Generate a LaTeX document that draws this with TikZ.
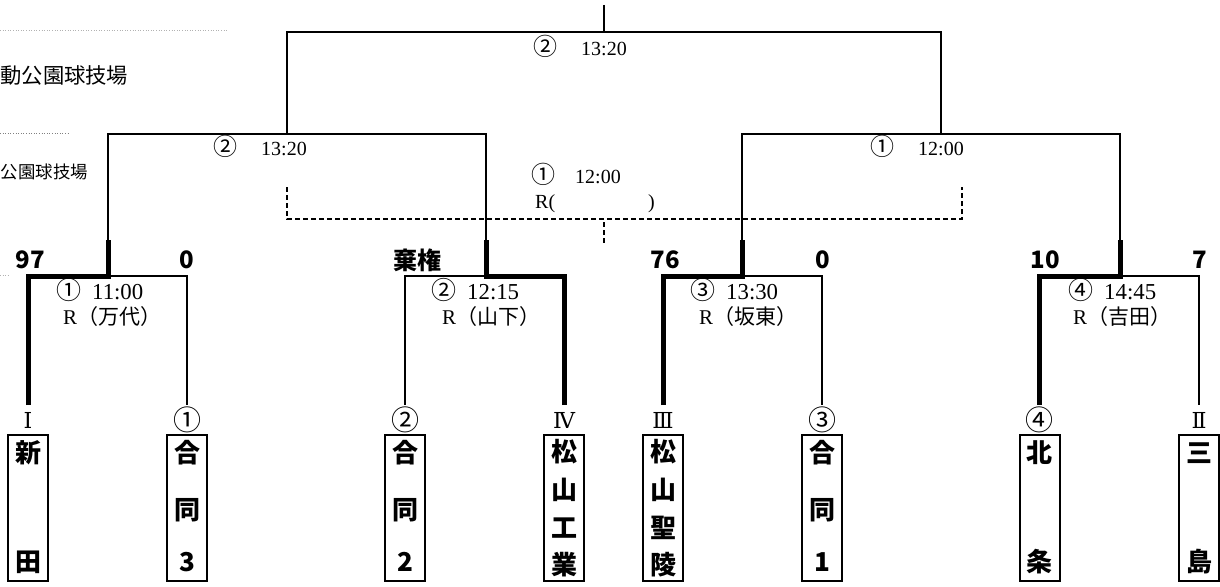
\documentclass[tikz,border=0pt]{standalone}
\usepackage{fontspec}
\setmainfont{Liberation Serif}
\newfontfamily\jp{Noto Sans CJK JP}
\newfontfamily\romf{DejaVu Serif}
\newcommand\circjp[1]{{\jp\fontsize{25}{25}\selectfont #1}}
\newcommand\circsm[1]{{\jp\fontsize{24}{24}\selectfont #1}}
\newcommand\refjp[1]{{\jp\fontsize{21}{21}\selectfont （#1）}}
\begin{document}
\begin{tikzpicture}[x=1pt,y=-1pt,
  wire/.style={line width=2pt},
  win/.style={line width=5pt},
  dashline/.style={line width=1.6pt, dash pattern=on 5pt off 3pt},
  teambox/.style={draw, line width=2pt, minimum width=40pt, minimum height=146pt, inner sep=0pt},
  tch/.style={font=\jp\bfseries\fontsize{26}{26}\selectfont, inner sep=0pt},
  score/.style={font=\jp\bfseries\fontsize{24}{24}\selectfont, inner sep=0pt},
  seed/.style={font=\jp\fontsize{28}{28}\selectfont, inner sep=0pt},
  rom/.style={font=\romf\fontsize{22}{22}\selectfont, inner sep=0pt},
  mlab/.style={font=\fontsize{22.8}{22.8}\selectfont, inner sep=0pt, anchor=west},
  rlab/.style={font=\fontsize{21}{21}\selectfont, inner sep=0pt, anchor=west},
  tlab/.style={font=\fontsize{20}{20}\selectfont, inner sep=0pt, anchor=west},
  venue/.style={inner sep=0pt, anchor=east},
  dotgray/.style={line width=0.6pt, gray!60, dotted},
]
\useasboundingbox (0,0) rectangle (1220,586);
\fill[white] (0,0) rectangle (1220,586);

% venue notes
\draw[dotgray] (0,30) -- (227,30);
\node[venue, font=\jp\fontsize{21.3}{21.3}\selectfont] (v1) at (128.5,75) {動公園球技場};
\draw[line width=0.6pt, gray, dotted] (0,133) -- (69,133);
\node[venue, font=\jp\fontsize{17.4}{17.4}\selectfont] (v2) at (88,172) {公園球技場};
\draw[dotgray] (0,275) -- (8,275);

% coordinates of the bracket
\coordinate (f) at (604,5);
\coordinate (fj) at (604,32);
\coordinate (sL) at (287,32);
\coordinate (sR) at (941,32);
\coordinate (sLj) at (287,134);
\coordinate (sRj) at (941,134);
\coordinate (q1) at (108,134);
\coordinate (q2) at (486,134);
\coordinate (q3) at (742,134);
\coordinate (q4) at (1120,134);
\coordinate (q1w) at (108,240);
\coordinate (q2w) at (486,240);
\coordinate (q3w) at (742,240);
\coordinate (q4w) at (1120,240);
\coordinate (j1) at (108,276);
\coordinate (j2) at (486,276);
\coordinate (j3) at (742,276);
\coordinate (j4) at (1120,276);
\coordinate (e1) at (28,405);
\coordinate (e2) at (187,405);
\coordinate (e3) at (405,405);
\coordinate (e4) at (564,405);
\coordinate (e5) at (663,405);
\coordinate (e6) at (822,405);
\coordinate (e7) at (1039,405);
\coordinate (e8) at (1199,405);

% final and semis
\draw[wire] (f) -- (fj);
\draw[wire] (sLj) -- (sL) -- (sR) -- (sRj);
\draw[wire] (q1w) -- (q1) -- (q2) -- (q2w);
\draw[wire] (q3w) -- (q3) -- (q4) -- (q4w);

% first round
\draw[win] (e1) |- (j1) -- (q1w);
\draw[wire] (j1) -| (e2);
\draw[win] (e4) |- (j2) -- (q2w);
\draw[wire] (j2) -| (e3);
\draw[win] (e5) |- (j3) -- (q3w);
\draw[wire] (j3) -| (e6);
\draw[win] (e7) |- (j4) -- (q4w);
\draw[wire] (j4) -| (e8);

% third place (dashed)
\coordinate (d1) at (287,187);
\coordinate (d2) at (287,219);
\coordinate (d3) at (962,219);
\coordinate (d4) at (962,187);
\coordinate (d5) at (604,222);
\coordinate (d6) at (604,243);
\draw[dashline] (d1) -- (d2) -- (d3) -- (d4);
\draw[dashline] (d5) -- (d6);

% labels of the later rounds
\node[tlab] (lt) at (533,46) {\circsm{②}\hspace{24pt}13:20};
\node[tlab] (ls1) at (213,146) {\circsm{②}\hspace{24pt}13:20};
\node[tlab] (ls2) at (870,146) {\circsm{①}\hspace{24pt}12:00};
\node[tlab] (l3a) at (531,174) {\circsm{①}\hspace{20pt}12:00};
\node[tlab] (l3b) at (535,204) {R(\hspace{93pt})};

% labels of the first round
\node[mlab] (m1a) at (56,290) {\circjp{①}\hspace{11pt}11:00};
\node[rlab] (m1b) at (63,317) {R\refjp{万代}};
\node[mlab] (m2a) at (431,290) {\circjp{②}\hspace{11pt}12:15};
\node[rlab] (m2b) at (442,317) {R\refjp{山下}};
\node[mlab] (m3a) at (690,290) {\circjp{③}\hspace{11pt}13:30};
\node[rlab] (m3b) at (699,317) {R\refjp{坂東}};
\node[mlab] (m4a) at (1068,290) {\circjp{④}\hspace{11pt}14:45};
\node[rlab] (m4b) at (1073,317) {R\refjp{吉田}};

% scores
\node[score] (p1) at (30,260) {97};
\node[score] (p2) at (187,260) {0};
\node[score] (p3) at (417,260) {棄権};
\node[score] (p4) at (665,260) {76};
\node[score] (p5) at (823,260) {0};
\node[score] (p6) at (1045,260) {10};
\node[score] (p7) at (1200,260) {7};

% seeds
\node[rom] (s1) at (28,420) {Ⅰ};
\node[seed] (s2) at (187,420) {①};
\node[seed] (s3) at (405,420) {②};
\node[rom] (s4) at (564,420) {Ⅳ};
\node[rom] (s5) at (663,420) {Ⅲ};
\node[seed] (s6) at (822,420) {③};
\node[seed] (s7) at (1039,420) {④};
\node[rom] (s8) at (1199,420) {Ⅱ};

% team boxes
\node[teambox] (b1) at (28,508) {};
\node[teambox] (b2) at (187,508) {};
\node[teambox] (b3) at (405,508) {};
\node[teambox] (b4) at (564,508) {};
\node[teambox] (b5) at (663,508) {};
\node[teambox] (b6) at (822,508) {};
\node[teambox] (b7) at (1039.5,508) {};
\node[teambox] (b8) at (1199,508) {};

% team names
\node[tch] (t1a) at (28,453) {新};
\node[tch] (t1b) at (28,562) {田};
\node[tch] (t2a) at (187,453) {合};
\node[tch] (t2b) at (187,510) {同};
\node[tch] (t2c) at (187,562) {3};
\node[tch] (t3a) at (405,453) {合};
\node[tch] (t3b) at (405,510) {同};
\node[tch] (t3c) at (405,562) {2};
\node[tch] (t4a) at (564,452) {松};
\node[tch] (t4b) at (564,490) {山};
\node[tch] (t4c) at (564,528) {工};
\node[tch] (t4d) at (564,565) {業};
\node[tch] (t5a) at (663,452) {松};
\node[tch] (t5b) at (663,490) {山};
\node[tch] (t5c) at (663,528) {聖};
\node[tch] (t5d) at (663,565) {陵};
\node[tch] (t6a) at (822,453) {合};
\node[tch] (t6b) at (822,510) {同};
\node[tch] (t6c) at (822,562) {1};
\node[tch] (t7a) at (1039.5,453) {北};
\node[tch] (t7b) at (1039.5,562) {条};
\node[tch] (t8a) at (1199,453) {三};
\node[tch] (t8b) at (1199,562) {島};
\end{tikzpicture}
\end{document}
